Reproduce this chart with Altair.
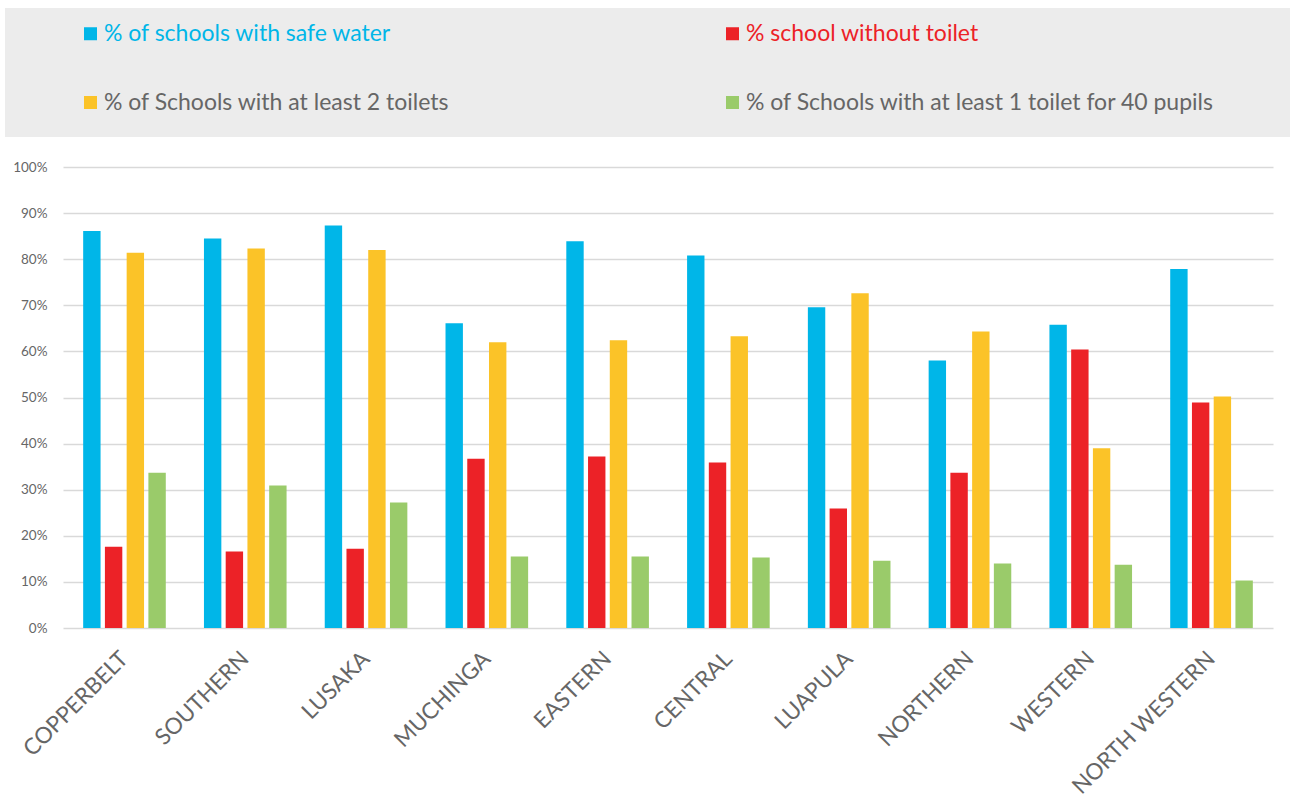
import altair as alt
import pandas as pd

regions = ["COPPERBELT", "SOUTHERN", "LUSAKA", "MUCHINGA", "EASTERN",
           "CENTRAL", "LUAPULA", "NORTHERN", "WESTERN", "NORTH WESTERN"]

series = ["% of schools with safe water", "% school without toilet",
          "% of Schools with at least 2 toilets",
          "% of Schools with at least 1 toilet for 40 pupils"]

safe_water = [86.1, 84.5, 87.3, 66.1, 83.9, 80.8, 69.6, 58.0, 65.8, 77.9]
no_toilet = [17.6, 16.6, 17.2, 36.7, 37.2, 35.9, 25.9, 33.7, 60.4, 48.9]
two_toilets = [81.4, 82.3, 82.0, 62.0, 62.4, 63.3, 72.6, 64.3, 39.0, 50.2]
one_per_40 = [33.7, 30.9, 27.2, 15.5, 15.5, 15.3, 14.6, 14.0, 13.7, 10.3]

colors = ["#00b6e8", "#ec2227", "#fbc328", "#9acb6a"]
y_ticks = [0, 10, 20, 30, 40, 50, 60, 70, 80, 90, 100]

rows = []
for s, vals in zip(series, [safe_water, no_toilet, two_toilets, one_per_40]):
    for r, v in zip(regions, vals):
        rows.append({"region": r, "series": s, "value": v})
df = pd.DataFrame(rows)

label_color_expr = (
    f"datum.label == '{series[0]}' ? '{colors[0]}' : "
    f"datum.label == '{series[1]}' ? '{colors[1]}' : '#666666'"
)

bg = alt.Chart(pd.DataFrame({"a": [0]})).mark_rect(color="#ececec").encode(
    x=alt.value(-58), x2=alt.value(1227), y=alt.value(-159), y2=alt.value(-30)
)

bars = alt.Chart(df).mark_bar().encode(
    x=alt.X("region:N", sort=regions,
            scale=alt.Scale(paddingInner=0.28, paddingOuter=0.149),
            axis=alt.Axis(title=None, labelAngle=-45, labelAlign="right",
                          labelBaseline="middle", ticks=False, domain=False,
                          labelFont="Lato", labelFontSize=22.5, labelColor="#666666",
                          labelPadding=27, labelLimit=0)),
    xOffset=alt.XOffset("series:N", sort=series,
                        scale=alt.Scale(paddingInner=0.2, paddingOuter=0.1)),
    y=alt.Y("value:Q", scale=alt.Scale(domain=[0, 100], nice=False),
            axis=alt.Axis(title=None, values=y_ticks, labelExpr="datum.value + '%'",
                          ticks=False, domain=False, gridColor="#d9d9d9",
                          gridWidth=1.5, labelFont="Lato", labelFontSize=13.5,
                          labelColor="#666666", labelPadding=16)),
    color=alt.Color("series:N", sort=series,
                    scale=alt.Scale(domain=series, range=colors),
                    legend=alt.Legend(
                        title=None, orient="none", legendX=16, legendY=-145,
                        direction="horizontal",
                        columns=2, columnPadding=271, rowPadding=45,
                        symbolType="square",
                        symbolSize=169, symbolStrokeWidth=0, symbolOpacity=1,
                        labelFont="Lato", labelFontSize=23, labelOffset=2,
                        labelLimit=0, labelColor={"expr": label_color_expr})),
)

chart = alt.layer(bg, bars).properties(
    width=1210, height=461,
    padding={"left": 5, "top": 8, "right": 0, "bottom": 0},
    background="white",
).configure_view(stroke=None)

chart.save("out.html", embed_options={"renderer": "svg", "actions": False})
